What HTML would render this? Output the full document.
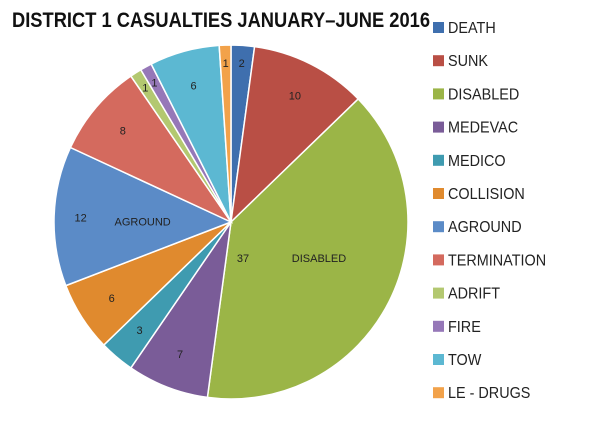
<!DOCTYPE html>
<html><head><meta charset="utf-8"><style>
body{margin:0;background:#fff;width:600px;height:416px;overflow:hidden;font-family:"Liberation Sans",sans-serif}
</style></head><body>
<svg width="600" height="416" id="chart">
<text x="12" y="27" font-size="21" font-weight="bold" fill="#111" textLength="418" lengthAdjust="spacingAndGlyphs">DISTRICT 1 CASUALTIES JANUARY–JUNE 2016</text>
</svg>
<script>
const categories=["DEATH","SUNK","DISABLED","MEDEVAC","MEDICO","COLLISION","AGROUND","TERMINATION","ADRIFT","FIRE","TOW","LE - DRUGS"];
const values=[2,10,37,7,3,6,12,8,1,1,6,1];
const colors=["#3f6fae","#b94f45","#9bb547","#7a5c98","#3f9bb0","#e08a2e","#5b8bc7","#d46a5e","#b3c870","#9678b8","#5cb8d2","#f2a24a"];
const svg=document.getElementById('chart');
const NS="http://www.w3.org/2000/svg";
const cx=231,cy=222,r=177;
const total=values.reduce((a,b)=>a+b,0);
let a0=0;
values.forEach((v,i)=>{
  const a1=a0+v/total*2*Math.PI;
  const p=(a)=>[cx+r*Math.sin(a),cy-r*Math.cos(a)];
  const [x0,y0]=p(a0),[x1,y1]=p(a1);
  const path=document.createElementNS(NS,'path');
  path.setAttribute('d',`M${cx},${cy}L${x0},${y0}A${r},${r} 0 ${a1-a0>Math.PI?1:0} 1 ${x1},${y1}Z`);
  path.setAttribute('fill',colors[i]);
  path.setAttribute('stroke','#fff');
  path.setAttribute('stroke-width','1.5');
  
  
  svg.appendChild(path);
  const am=(a0+a1)/2;
  const lf=v<=2?0.9:0.8;
  const t=document.createElementNS(NS,'text');
  const lx=cx+r*lf*Math.sin(am)+(v>=12?(v>20?-0.1*r:-0.05*r):0),ly=cy-r*lf*Math.cos(am)+4;
  t.setAttribute('x',v>20?cx+12:lx);t.setAttribute('y',v>20?cy+40:ly);
  t.setAttribute('font-size','11');t.setAttribute('text-anchor','middle');t.setAttribute('fill','#222');
  t.textContent=v;
  
  
  svg.appendChild(t);
  if(v>=12){
    const n=document.createElementNS(NS,'text');
    n.setAttribute('x',v>20?cx+88:lx+62);n.setAttribute('y',v>20?cy+40:ly+4);
    n.setAttribute('font-size','11');n.setAttribute('text-anchor','middle');n.setAttribute('fill','#222');
    n.textContent=categories[i];
    
    
    svg.appendChild(n);
  }
  a0=a1;
});
categories.forEach((c,i)=>{
  const y=27+i*33.2;
  const g=document.createElementNS(NS,'g');
  
  
  const rc=document.createElementNS(NS,'rect');
  rc.setAttribute('x',433);rc.setAttribute('y',y-5);rc.setAttribute('width',11);rc.setAttribute('height',11);rc.setAttribute('fill',colors[i]);
  const t=document.createElementNS(NS,'text');
  t.setAttribute('x',448);t.setAttribute('y',y+6);t.setAttribute('font-size','16');t.setAttribute('fill','#222');
  t.setAttribute('transform',`translate(448,0) scale(0.9,1) translate(-448,0)`);
  t.textContent=c;
  g.appendChild(rc);g.appendChild(t);svg.appendChild(g);
});
</script>
</body></html>
